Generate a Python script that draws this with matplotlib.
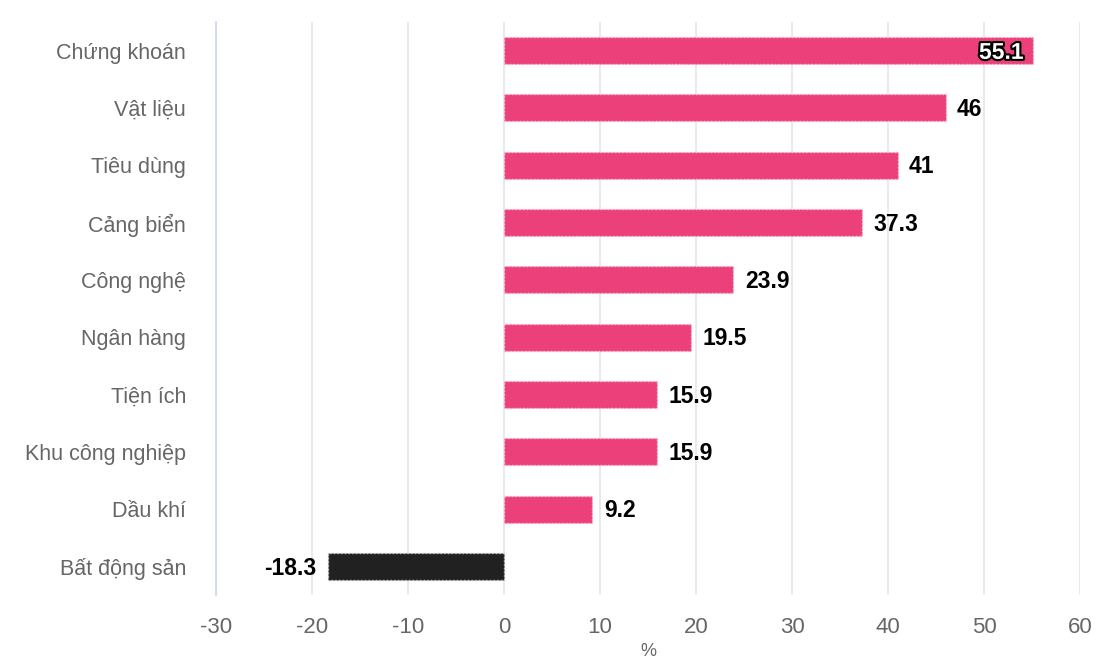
import matplotlib
matplotlib.use("Agg")
import matplotlib.pyplot as plt
import matplotlib.patheffects as pe

plt.rcParams['font.family'] = ['Liberation Sans', 'DejaVu Sans']

# data
sectors = ['Chứng khoán', 'Vật liệu', 'Tiêu dùng', 'Cảng biển', 'Công nghệ',
           'Ngân hàng', 'Tiện ích', 'Khu công nghiệp', 'Dầu khí', 'Bất động sản']
values = [55.1, 46, 41, 37.3, 23.9, 19.5, 15.9, 15.9, 9.2, -18.3]
xticks = [-30, -20, -10, 0, 10, 20, 30, 40, 50, 60]

pink = '#ec407a'
dark = '#212121'

fig = plt.figure(figsize=(11, 6.6), dpi=100)
ax = fig.add_axes([216/1100, 1 - 595/660, 864/1100, 573/660])

ypos = list(range(len(sectors)))
colors = [pink if v >= 0 else dark for v in values]
edges = ['#f8c6d8' if v >= 0 else '#cccccc' for v in values]
bars = ax.barh(ypos, values, height=0.47, color=colors, edgecolor=edges,
               linewidth=1, linestyle=':', zorder=3)

for y, v in zip(ypos, values):
    lbl = f'{v:g}'
    if v == max(values):
        ax.text(v - 1.0, y + 0.03, lbl, ha='right', va='center', fontsize=16.5,
                fontweight='bold', color='white', zorder=5,
                path_effects=[pe.withStroke(linewidth=3, foreground='black')])
    elif v >= 0:
        ax.text(v + 1.2, y + 0.03, lbl, ha='left', va='center', fontsize=16.5,
                fontweight='bold', color='black', zorder=5)
    else:
        ax.text(v - 1.2, y + 0.03, lbl, ha='right', va='center', fontsize=16.5,
                fontweight='bold', color='black', zorder=5)

ax.set_xlim(-30, 60)
ax.set_ylim(len(sectors) - 0.5, -0.5)
ax.set_xticks(xticks)
ax.set_xticklabels([str(t) for t in xticks])
ax.set_yticks(ypos)
ax.set_yticklabels(sectors)
ax.tick_params(axis='both', length=0, labelcolor='#666666')
ax.tick_params(axis='x', labelsize=16, pad=15.5)
ax.tick_params(axis='y', labelsize=15.5, pad=21.5)

ax.grid(axis='x', color='#e6e6e6', linewidth=1.2, zorder=0)
for s in ['top', 'right', 'bottom']:
    ax.spines[s].set_visible(False)
ax.spines['left'].set_color('#ccd6eb')
ax.spines['left'].set_linewidth(1.2)

fig.text(648/1100, 1 - 652/660, '%', ha='center', va='center', fontsize=13,
         color='#666666')

fig.savefig('out.png', dpi=100)
